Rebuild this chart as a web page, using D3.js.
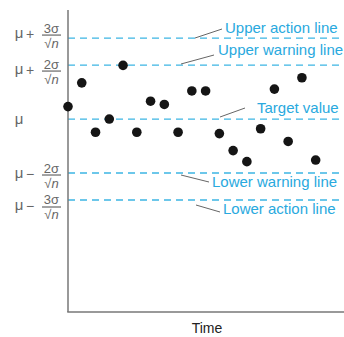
<!DOCTYPE html>
<html><head><meta charset="utf-8">
<script src="https://cdn.jsdelivr.net/npm/d3@7"></script>
<style>body{margin:0;background:#fff}svg{display:block}</style>
</head><body>
<script>
// sample means in units of sigma/sqrt(n) from target
const samples = [0.46, 1.34, -0.49, 0, 1.99, -0.49, 0.66, 0.54, -0.49, 1.04, 1.04, -0.54, -1.17, -1.58, -0.36, 1.11, -0.83, 1.53, -1.52];
const levels = [3, 2, 0, -2, -3];
const lineNames = ["Upper action line", "Upper warning line", "Target value", "Lower warning line", "Lower action line"];
const levelSigns = ["+", "+", "", "\u2212", "\u2212"];
const levelNums = ["3\u03c3", "2\u03c3", "", "2\u03c3", "3\u03c3"];
const xLabel = "Time";

const W = 344, H = 337;
const svg = d3.select("body").append("svg").attr("width", W).attr("height", H);

const x = d3.scaleLinear().domain([0, 20]).range([68, 343.2]);
const y = d3.scaleLinear().domain([-7.15, 4.04]).range([312, 10]);

const blue = "#3db5e3", textBlue = "#29a9de", gray = "#666";
const ff = "Liberation Sans, Arial, sans-serif";

// control lines
svg.selectAll("line.ctrl").data(levels).join("line")
  .attr("class", "ctrl")
  .attr("x1", x(0)).attr("x2", W)
  .attr("y1", d => y(d)).attr("y2", d => y(d))
  .attr("stroke", blue).attr("stroke-width", 1.3)
  .attr("stroke-dasharray", "7,5");

// axes
svg.append("line").attr("x1", x(0)).attr("x2", x(0)).attr("y1", y(4.04)).attr("y2", y(-7.15))
  .attr("stroke", "#777").attr("stroke-width", 1.5);
svg.append("line").attr("x1", x(0) - 0.75).attr("x2", W).attr("y1", y(-7.15)).attr("y2", y(-7.15))
  .attr("stroke", "#777").attr("stroke-width", 1.5);

svg.append("text").attr("x", 207).attr("y", 333).attr("text-anchor", "middle")
  .attr("font-family", ff).attr("font-size", 14).attr("fill", "#222")
  .text(xLabel);

// annotations
const annX = [225, 218, 257, 212, 223];
const annDy = [-5, -10, -6, 14, 14];
const leadFrom = [[195, 38], [181, 64], [220, 117], [181, 175], [196, 205]];
const leadTo = [[222, 29], [214, 55], [245, 108], [209, 182], [220, 212]];
lineNames.forEach((name, i) => {
  svg.append("line").attr("x1", leadFrom[i][0]).attr("y1", leadFrom[i][1])
    .attr("x2", leadTo[i][0]).attr("y2", leadTo[i][1])
    .attr("stroke", gray).attr("stroke-width", 1);
  svg.append("text").attr("x", annX[i]).attr("y", y(levels[i]) + annDy[i])
    .attr("font-family", ff).attr("font-size", 15)
    .attr("fill", textBlue).text(name);
});

// left labels
const barOff = [-3, 6, 0, 2, 7];
levels.forEach((lv, i) => {
  const by = y(lv) + barOff[i];
  if (lv === 0) {
    svg.append("text").attr("x", 19).attr("y", by + 5).attr("text-anchor", "middle")
      .attr("font-family", ff).attr("font-size", 15).attr("fill", gray).text("\u03bc");
    return;
  }
  svg.append("text").attr("x", 19).attr("y", by + 3).attr("text-anchor", "middle")
    .attr("font-family", ff).attr("font-size", 15).attr("fill", gray).text("\u03bc");
  svg.append("text").attr("x", 30).attr("y", by + 4).attr("text-anchor", "middle")
    .attr("font-family", ff).attr("font-size", 14).attr("fill", gray).text(levelSigns[i]);
  svg.append("text").attr("x", 51.5).attr("y", by - 2.5).attr("text-anchor", "middle")
    .attr("font-family", ff).attr("font-size", 13).attr("fill", gray).text(levelNums[i]);
  svg.append("line").attr("x1", 42).attr("x2", 61).attr("y1", by).attr("y2", by)
    .attr("stroke", gray).attr("stroke-width", 1.2);
  const den = svg.append("text").attr("x", 51.5).attr("y", by + 12.5).attr("text-anchor", "middle")
    .attr("font-family", ff).attr("font-size", 13).attr("fill", gray);
  den.append("tspan").text("\u221a");
  den.append("tspan").attr("font-style", "italic").text("n");
});

// points
svg.selectAll("circle").data(samples).join("circle")
  .attr("cx", (d, i) => x(i)).attr("cy", d => y(d)).attr("r", 4.8)
  .attr("fill", "#151515");
</script>
</body></html>
